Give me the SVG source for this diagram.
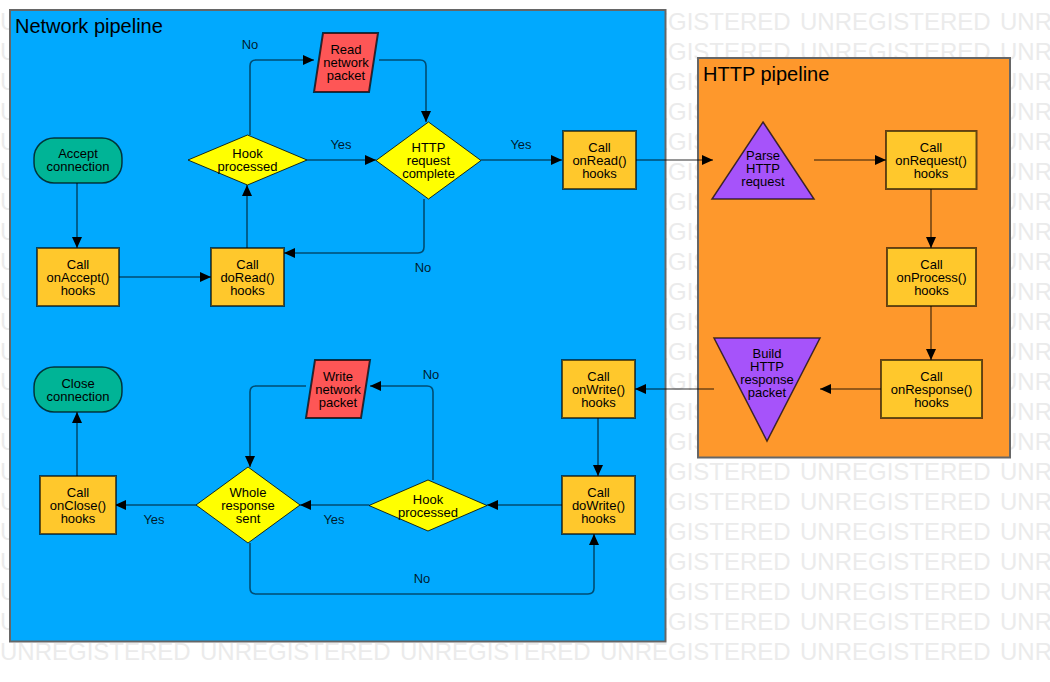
<svg xmlns="http://www.w3.org/2000/svg" xmlns:xlink="http://www.w3.org/1999/xlink" width="1050" height="682" viewBox="0 0 1050 682">
<style>
.wm{font-family:"Liberation Sans",Arial,sans-serif;font-size:24px;fill:#ebebeb}
.title{font-family:"Liberation Sans",Arial,sans-serif;font-size:20px;fill:#000}
.t{font-family:"Liberation Sans",Arial,sans-serif;font-size:13px;fill:#000;text-anchor:middle}
.lbl{font-family:"Liberation Sans",Arial,sans-serif;font-size:13px;fill:#000;fill-opacity:0.85;text-anchor:middle}
.box{fill:#ffc82c;stroke:#000;stroke-opacity:0.6;stroke-width:2}
.dia{fill:#ffff00;stroke:#000;stroke-opacity:0.8;stroke-width:1}
.term{fill:#00b496;stroke:#000;stroke-opacity:0.7;stroke-width:1.5}
.io{fill:#fe5656;stroke:#000;stroke-opacity:0.7;stroke-width:2}
.tri{fill:#a653fa;stroke:#000;stroke-opacity:0.7;stroke-width:1.5}
.c{fill:none;stroke:#000;stroke-opacity:0.55;stroke-width:1.6;marker-end:url(#ah)}
</style>
<defs>
<marker id="ah" markerUnits="userSpaceOnUse" markerWidth="11" markerHeight="10" refX="11" refY="5" orient="auto">
<path d="M0,0 L11,5 L0,10 z" fill="#000"/>
</marker>
<g id="wmrow">
<text class="wm" x="0" y="0">UNREGISTERED</text>
<text class="wm" x="200" y="0">UNREGISTERED</text>
<text class="wm" x="400" y="0">UNREGISTERED</text>
<text class="wm" x="600" y="0">UNREGISTERED</text>
<text class="wm" x="800" y="0">UNREGISTERED</text>
<text class="wm" x="1000" y="0">UNREGISTERED</text>
</g>
</defs>
<rect x="0" y="0" width="1050" height="682" fill="#ffffff"/>
<g id="watermark">
<use xlink:href="#wmrow" x="0" y="30"/>
<use xlink:href="#wmrow" x="0" y="60"/>
<use xlink:href="#wmrow" x="0" y="90"/>
<use xlink:href="#wmrow" x="0" y="120"/>
<use xlink:href="#wmrow" x="0" y="150"/>
<use xlink:href="#wmrow" x="0" y="180"/>
<use xlink:href="#wmrow" x="0" y="210"/>
<use xlink:href="#wmrow" x="0" y="240"/>
<use xlink:href="#wmrow" x="0" y="270"/>
<use xlink:href="#wmrow" x="0" y="300"/>
<use xlink:href="#wmrow" x="0" y="330"/>
<use xlink:href="#wmrow" x="0" y="360"/>
<use xlink:href="#wmrow" x="0" y="390"/>
<use xlink:href="#wmrow" x="0" y="420"/>
<use xlink:href="#wmrow" x="0" y="450"/>
<use xlink:href="#wmrow" x="0" y="480"/>
<use xlink:href="#wmrow" x="0" y="510"/>
<use xlink:href="#wmrow" x="0" y="540"/>
<use xlink:href="#wmrow" x="0" y="570"/>
<use xlink:href="#wmrow" x="0" y="600"/>
<use xlink:href="#wmrow" x="0" y="630"/>
<use xlink:href="#wmrow" x="0" y="660"/>
</g>

<g id="network-pipeline">
<rect x="10" y="10" width="655.5" height="631.5" fill="#01a9fe" stroke="#666" stroke-width="2"/>
<text class="title" x="15" y="33">Network pipeline</text>
</g>
<g id="http-pipeline">
<rect x="698" y="58" width="312" height="399.5" fill="#fe982c" stroke="#666" stroke-width="2"/>
<text class="title" x="703" y="81">HTTP pipeline</text>
</g>

<g id="connectors">
<path class="c" d="M77,183 V248"/>
<path class="c" d="M119,277 H211"/>
<path class="c" d="M247,248 V185"/>
<path class="c" d="M250,135 V66 Q250,60 256,60 H314"/>
<path class="c" d="M307,160 H376"/>
<path class="c" d="M379,60 H420 Q426,60 426,66 V122"/>
<path class="c" d="M424,199 V247 Q424,253 418,253 H284"/>
<path class="c" d="M481,160 H562"/>
<path class="c" d="M636,160 H713"/>
<path class="c" d="M814,160 H886"/>
<path class="c" d="M931,189 V248"/>
<path class="c" d="M931,306 V360"/>
<path class="c" d="M881,389 H820"/>
<path class="c" d="M714,389 H635"/>
<path class="c" d="M598,418 V476"/>
<path class="c" d="M562,505 H487"/>
<path class="c" d="M433,480 V392 Q433,386 427,386 H370"/>
<path class="c" d="M369,505 H300"/>
<path class="c" d="M306,386 H256 Q250,386 250,392 V467"/>
<path class="c" d="M196,505 H115"/>
<path class="c" d="M250,543 V588 Q250,594 256,594 H588 Q594,594 594,588 V534"/>
<path class="c" d="M77,476 V412"/>
<text class="lbl" x="250" y="49">No</text>
<text class="lbl" x="341" y="149">Yes</text>
<text class="lbl" x="423" y="272">No</text>
<text class="lbl" x="521" y="149">Yes</text>
<text class="lbl" x="431" y="379">No</text>
<text class="lbl" x="334" y="524">Yes</text>
<text class="lbl" x="154" y="524">Yes</text>
<text class="lbl" x="422" y="583">No</text>
</g>

<g id="accept-connection">
<rect class="term" x="34" y="138" width="88" height="45" rx="20" ry="20"/>
<text class="t" x="78" y="158">Accept</text>
<text class="t" x="78" y="171">connection</text>
</g>
<g id="on-accept">
<rect class="box" x="37" y="248" width="82" height="58"/>
<text class="t" x="78" y="268.5">Call</text>
<text class="t" x="78" y="281.5">onAccept()</text>
<text class="t" x="78" y="294.5">hooks</text>
</g>
<g id="do-read">
<rect class="box" x="211" y="248" width="73" height="58"/>
<text class="t" x="247.5" y="268.5">Call</text>
<text class="t" x="247.5" y="281.5">doRead()</text>
<text class="t" x="247.5" y="294.5">hooks</text>
</g>
<g id="hook-processed-read">
<polygon class="dia" points="247.5,135 307,160 247.5,185 188,160"/>
<text class="t" x="247.5" y="158">Hook</text>
<text class="t" x="247.5" y="171">processed</text>
</g>
<g id="read-network-packet">
<polygon class="io" points="323,33 378,33 369,92 314,92"/>
<text class="t" x="346" y="54">Read</text>
<text class="t" x="346" y="67">network</text>
<text class="t" x="346" y="80">packet</text>
</g>
<g id="http-request-complete">
<polygon class="dia" points="428.5,122 481,160.5 428.5,199 376,160.5"/>
<text class="t" x="428.5" y="152">HTTP</text>
<text class="t" x="428.5" y="165">request</text>
<text class="t" x="428.5" y="178">complete</text>
</g>
<g id="on-read">
<rect class="box" x="563" y="131" width="73" height="58"/>
<text class="t" x="599.5" y="151.5">Call</text>
<text class="t" x="599.5" y="164.5">onRead()</text>
<text class="t" x="599.5" y="177.5">hooks</text>
</g>
<g id="parse-http-request">
<polygon class="tri" points="763,122 814,199 712,199"/>
<text class="t" x="763" y="160">Parse</text>
<text class="t" x="763" y="173">HTTP</text>
<text class="t" x="763" y="186">request</text>
</g>
<g id="on-request">
<rect class="box" x="886" y="131" width="90.5" height="58"/>
<text class="t" x="931" y="151.5">Call</text>
<text class="t" x="931" y="164.5">onRequest()</text>
<text class="t" x="931" y="177.5">hooks</text>
</g>
<g id="on-process">
<rect class="box" x="887" y="248" width="89" height="58"/>
<text class="t" x="931.5" y="268.5">Call</text>
<text class="t" x="931.5" y="281.5">onProcess()</text>
<text class="t" x="931.5" y="294.5">hooks</text>
</g>
<g id="on-response">
<rect class="box" x="881" y="360" width="101" height="58"/>
<text class="t" x="931.5" y="380.5">Call</text>
<text class="t" x="931.5" y="393.5">onResponse()</text>
<text class="t" x="931.5" y="406.5">hooks</text>
</g>
<g id="build-http-response-packet">
<polygon class="tri" points="714,338 820,338 767,441"/>
<text class="t" x="767" y="358">Build</text>
<text class="t" x="767" y="371">HTTP</text>
<text class="t" x="767" y="384">response</text>
<text class="t" x="767" y="397">packet</text>
</g>
<g id="on-write">
<rect class="box" x="562" y="360" width="73" height="58"/>
<text class="t" x="598.5" y="380.5">Call</text>
<text class="t" x="598.5" y="393.5">onWrite()</text>
<text class="t" x="598.5" y="406.5">hooks</text>
</g>
<g id="do-write">
<rect class="box" x="562" y="476" width="73" height="58"/>
<text class="t" x="598.5" y="496.5">Call</text>
<text class="t" x="598.5" y="509.5">doWrite()</text>
<text class="t" x="598.5" y="522.5">hooks</text>
</g>
<g id="hook-processed-write">
<polygon class="dia" points="428,480 487,505.5 428,531 369,505.5"/>
<text class="t" x="428" y="503.5">Hook</text>
<text class="t" x="428" y="516.5">processed</text>
</g>
<g id="write-network-packet">
<polygon class="io" points="315,360 370,360 361,418 306,418"/>
<text class="t" x="338" y="381">Write</text>
<text class="t" x="338" y="394">network</text>
<text class="t" x="338" y="407">packet</text>
</g>
<g id="whole-response-sent">
<polygon class="dia" points="248,467 300,505 248,543 196,505"/>
<text class="t" x="248" y="496.5">Whole</text>
<text class="t" x="248" y="509.5">response</text>
<text class="t" x="248" y="522.5">sent</text>
</g>
<g id="on-close">
<rect class="box" x="40" y="476" width="76" height="58"/>
<text class="t" x="78" y="496.5">Call</text>
<text class="t" x="78" y="509.5">onClose()</text>
<text class="t" x="78" y="522.5">hooks</text>
</g>
<g id="close-connection">
<rect class="term" x="34" y="367" width="88" height="45" rx="20" ry="20"/>
<text class="t" x="78" y="387.5">Close</text>
<text class="t" x="78" y="400.5">connection</text>
</g>
</svg>
